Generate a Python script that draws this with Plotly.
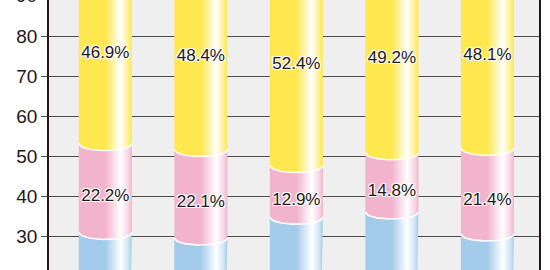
import numpy as np
import plotly.graph_objects as go

# ---- data ----
categories = ["1", "2", "3", "4", "5"]
blue = [30.9, 29.5, 34.7, 36.0, 30.5]
pink = [22.2, 22.1, 12.9, 14.8, 21.4]
yellow = [46.9, 48.4, 52.4, 49.2, 48.1]
y_ticks = [20, 30, 40, 50, 60, 70, 80, 90]

# ---- style ----
series = [
    (blue, "#a3cbea", "#cfe5f6", False),
    (pink, "#f2b3cd", "#f8d6e5", True),
    (yellow, "#ffe84f", "#fff08c", True),
]
bar_w = 0.556
dip = 1.75
yr = [21.5, 89]
FONT = "Liberation Sans, Arial, sans-serif"
TXT = "#231815"

fig = go.Figure()
s = np.linspace(-1, 1, 41)
arc = np.sqrt(1 - s ** 2)

arc_x, arc_y = [], []
for i, cat in enumerate(categories):
    xc = i
    base = 0.0
    for vals, col, light, _ in series:
        a = base
        b = base + vals[i]
        xs = xc + s * bar_w / 2
        top_y = b - dip * arc
        bot_y = a - dip * arc
        px = list(xs) + list(xs[::-1]) + [xs[0]]
        py = list(top_y) + list(bot_y[::-1]) + [top_y[0]]
        fig.add_trace(go.Scatter(
            x=px, y=py, mode="lines", fill="toself",
            line=dict(width=0, color=col),
            fillgradient=dict(
                type="horizontal",
                start=xc - bar_w / 2, stop=xc + bar_w / 2,
                colorscale=[[0, col], [0.5, col], [0.79, "#ffffff"],
                            [0.93, light], [1, col]],
            ),
            hoverinfo="skip", showlegend=False,
        ))
        if a > 0:
            arc_x += list(xs) + [None]
            arc_y += list(bot_y) + [None]
        base = b

fig.add_trace(go.Scatter(x=arc_x, y=arc_y, mode="lines",
                         line=dict(color="#ffffff", width=1.6),
                         hoverinfo="skip", showlegend=False))

# labels
lab_x, lab_y, lab_t = [], [], []
for i in range(len(categories)):
    base = blue[i]
    for vals, off in ((pink, 2.3), (yellow, 1.0)):
        lab_x.append(i)
        lab_y.append(base + vals[i] / 2 - off)
        lab_t.append(f"{vals[i]:.1f}%")
        base += vals[i]
fig.add_trace(go.Scatter(
    x=lab_x, y=lab_y, text=lab_t, mode="text",
    textfont=dict(family=FONT, size=17, color=TXT,
                  shadow="-1px -1px 0 #fff, 1px -1px 0 #fff, -1px 1px 0 #fff, 1px 1px 0 #fff, 0 0 2px #fff"),
    hoverinfo="skip", showlegend=False,
))

# partially visible tick labels outside the visible range
for t in y_ticks:
    if t < yr[0] or t > yr[1]:
        fig.add_annotation(
            x=0, xref="paper", xanchor="right", xshift=-10,
            y=(t - yr[0]) / (yr[1] - yr[0]), yref="paper", yanchor="middle",
            text=str(t), showarrow=False,
            font=dict(family=FONT, size=19, color=TXT),
        )

fig.update_layout(
    width=550, height=270,
    margin=dict(l=49, r=11, t=0, b=0),
    paper_bgcolor="#ffffff", plot_bgcolor="#efefef",
    xaxis=dict(range=[-0.59, 4.54], showgrid=False, zeroline=False,
               showticklabels=False, ticks="", showline=False, fixedrange=True),
    yaxis=dict(range=yr, tickvals=y_ticks, showgrid=True,
               gridcolor="#4f4b4b", gridwidth=1.4, zeroline=False,
               ticks="outside", ticklen=6, tickcolor="#4f4b4b", tickwidth=1.4,
               showline=True, linecolor=TXT, linewidth=1.5, mirror=True,
               tickfont=dict(family=FONT, size=19, color=TXT)),
)
fig.write_html("out.html")
